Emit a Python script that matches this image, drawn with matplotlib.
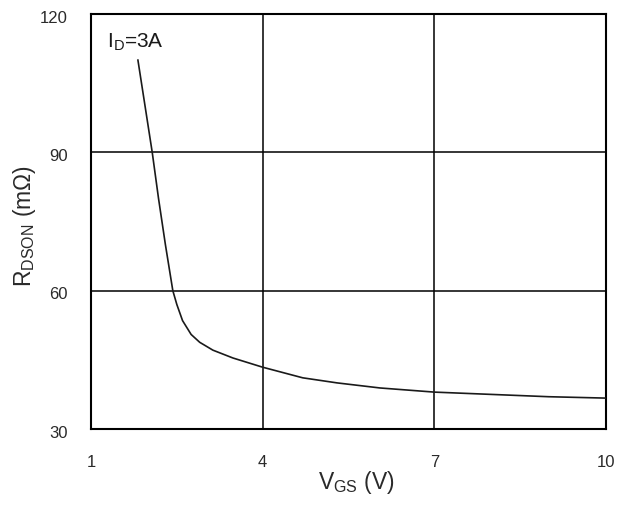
"""RDS(on) vs VGS curve, redrawn from a datasheet figure."""
import matplotlib
matplotlib.use("Agg")
import matplotlib.pyplot as plt
from matplotlib.transforms import ScaledTranslation

# ── Data ─────────────────────────────────────────────────────────────────
vgs = [1.82, 2.07, 2.18, 2.30, 2.43, 2.50, 2.60, 2.75, 2.90, 3.13, 3.48,
       4.00, 4.70, 5.30, 6.05, 7.00, 8.00, 9.00, 10.00]
rdson = [110.0, 90.0, 80.0, 70.0, 60.0, 57.0, 53.5, 50.5, 48.8, 47.1, 45.4,
         43.4, 41.1, 40.0, 38.9, 38.0, 37.5, 37.0, 36.7]

x_ticks = [1, 4, 7, 10]
y_ticks = [30, 60, 90, 120]
curve_label = r"I$_{\mathregular{D}}$=3A"

plt.rcParams["font.family"] = ["Liberation Sans", "DejaVu Sans"]
plt.rcParams["mathtext.fontset"] = "custom"
plt.rcParams["mathtext.rm"] = "Liberation Sans"

W, H = 628, 505
fig = plt.figure(figsize=(W / 100, H / 100), dpi=100)
ax = fig.add_axes([91 / W, 1 - 429 / H, 515 / W, 415 / H])

ax.plot(vgs, rdson, color="#1a1a1a", lw=1.2, zorder=3)

ax.set_xlim(1, 10)
ax.set_ylim(30, 120)
ax.set_xticks(x_ticks)
ax.set_yticks(y_ticks)
ax.grid(True, color="black", lw=1.1)

for s in ax.spines.values():
    s.set_linewidth(1.5)
    s.set_color("black")

ax.tick_params(length=0, labelsize=12, labelcolor="#2a2a2a")
ax.tick_params(axis="x", pad=19)
ax.tick_params(axis="y", pad=17)
# y labels sit a touch below their grid lines in the original
for lab in ax.get_yticklabels():
    lab.set_transform(lab.get_transform()
                      + ScaledTranslation(0, -2 / 72, fig.dpi_scale_trans))

ax.text(1.28, 112.8, curve_label, fontsize=15, color="#1a1a1a",
        va="baseline", ha="left")

ax.set_xlabel(r"V$_{\mathregular{GS}}$ (V)", fontsize=16.5, color="#2a2a2a",
              va="center")
ax.xaxis.set_label_coords(0.515, -0.128)
ax.set_ylabel(r"R$_{\mathregular{DSON}}$ (m$\Omega$)", fontsize=16.5,
              color="#2a2a2a", va="center")
ax.yaxis.set_label_coords(-0.129, 0.49)

fig.savefig("out.png", dpi=100, facecolor="white")
